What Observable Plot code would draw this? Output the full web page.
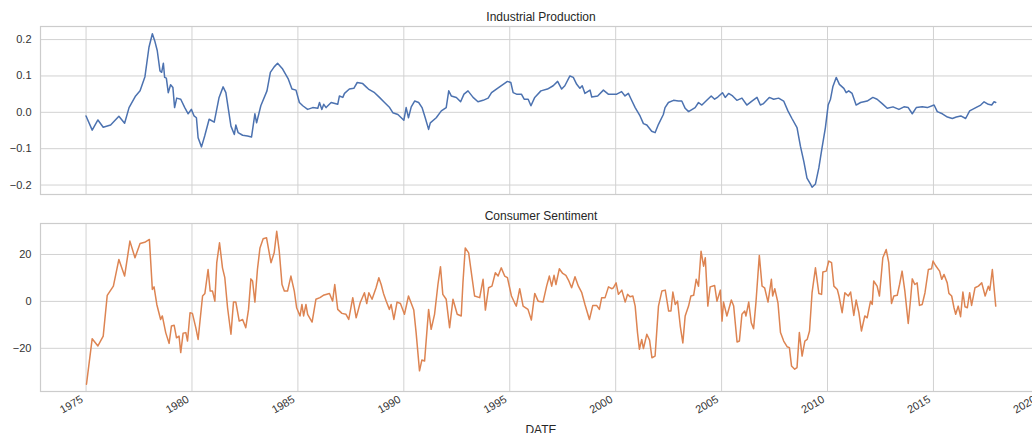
<!DOCTYPE html>
<html>
<head>
<meta charset="utf-8">
<script src="https://cdn.jsdelivr.net/npm/d3@7"></script>
<script src="https://cdn.jsdelivr.net/npm/@observablehq/plot@0.6"></script>
<style>
  html, body { margin: 0; padding: 0; background: #fff; overflow: hidden; width: 1032px; height: 433px; }
  #wrap { position: relative; width: 1032px; height: 433px; overflow: hidden; }
  #top, #bottom { position: absolute; left: 0; width: 1045px; }
  #top { top: 0; }
  #bottom { top: 197px; }
  #wrap svg { max-width: none !important; height: auto; }
</style>
</head>
<body>
<div id="wrap"><div id="top"></div><div id="bottom"></div></div>
<script>
// ---- Data (decimal years) ----
const titles = ["Industrial Production", "Consumer Sentiment"];
const xLabel = "DATE";
const xTicks = [1975, 1980, 1985, 1990, 1995, 2000, 2005, 2010, 2015, 2020];
const ipTicks = [-0.2, -0.1, 0.0, 0.1, 0.2];
const csTicks = [-20, 0, 20];

const ipYears = [1975.0,1975.29,1975.56,1975.81,1976.16,1976.55,1976.82,1977.03,1977.34,1977.55,1977.78,1977.97,1978.13,1978.24,1978.36,1978.49,1978.57,1978.65,1978.71,1978.79,1978.88,1978.99,1979.10,1979.18,1979.28,1979.47,1979.66,1979.82,1979.97,1980.10,1980.21,1980.29,1980.45,1980.60,1980.81,1981.05,1981.28,1981.47,1981.60,1981.84,1982.00,1982.07,1982.18,1982.39,1982.62,1982.81,1982.97,1983.05,1983.25,1983.54,1983.70,1983.88,1984.04,1984.28,1984.55,1984.72,1984.91,1985.07,1985.23,1985.46,1985.70,1985.94,1986.02,1986.13,1986.22,1986.33,1986.57,1986.88,1986.96,1987.12,1987.20,1987.43,1987.64,1987.80,1988.06,1988.22,1988.33,1988.62,1988.85,1989.09,1989.33,1989.48,1989.72,1990.00,1990.11,1990.22,1990.35,1990.51,1990.70,1990.86,1991.01,1991.17,1991.25,1991.53,1991.77,1992.00,1992.12,1992.24,1992.48,1992.68,1992.84,1993.03,1993.27,1993.50,1993.74,1993.98,1994.14,1994.42,1994.69,1994.89,1995.05,1995.16,1995.32,1995.55,1995.68,1995.87,1996.00,1996.18,1996.47,1996.78,1997.05,1997.26,1997.45,1997.60,1997.84,1998.00,1998.16,1998.31,1998.42,1998.55,1998.79,1998.87,1999.15,1999.42,1999.65,2000.05,2000.28,2000.44,2000.60,2000.73,2000.92,2001.15,2001.31,2001.47,2001.70,2001.86,2002.02,2002.25,2002.33,2002.49,2002.73,2002.96,2003.12,2003.28,2003.44,2003.75,2003.91,2004.07,2004.30,2004.51,2004.67,2004.82,2005.04,2005.17,2005.33,2005.52,2005.72,2005.96,2006.19,2006.43,2006.67,2006.83,2006.98,2007.25,2007.46,2007.69,2007.93,2008.13,2008.32,2008.56,2008.72,2008.88,2009.03,2009.19,2009.27,2009.43,2009.59,2009.74,2009.90,2010.03,2010.14,2010.25,2010.41,2010.56,2010.77,2010.88,2011.00,2011.16,2011.35,2011.56,2011.87,2012.14,2012.34,2012.58,2012.82,2013.09,2013.37,2013.61,2013.81,2014.00,2014.19,2014.47,2014.71,2015.03,2015.18,2015.42,2015.66,2015.89,2016.08,2016.29,2016.52,2016.71,2017.00,2017.23,2017.39,2017.59,2017.75,2017.86,2017.94];
const ipValues = [-0.010,-0.049,-0.021,-0.041,-0.035,-0.011,-0.030,0.013,0.045,0.059,0.098,0.179,0.216,0.197,0.170,0.114,0.110,0.135,0.096,0.094,0.054,0.076,0.068,0.013,0.039,0.036,0.013,-0.004,0.008,-0.010,-0.015,-0.070,-0.095,-0.065,-0.019,-0.027,0.041,0.070,0.054,-0.038,-0.061,-0.035,-0.056,-0.063,-0.065,-0.068,-0.004,-0.029,0.018,0.059,0.110,0.125,0.135,0.119,0.091,0.064,0.061,0.027,0.018,0.008,0.013,0.011,0.027,0.008,0.022,0.013,0.027,0.022,0.045,0.041,0.052,0.064,0.066,0.082,0.079,0.070,0.064,0.054,0.041,0.027,0.013,-0.001,-0.006,-0.022,0.013,-0.015,0.015,0.031,0.027,0.013,-0.015,-0.047,-0.029,-0.015,0.004,0.013,0.059,0.045,0.041,0.029,0.050,0.059,0.041,0.029,0.033,0.039,0.054,0.066,0.077,0.085,0.082,0.054,0.050,0.050,0.036,0.036,0.018,0.041,0.059,0.064,0.073,0.085,0.064,0.073,0.100,0.096,0.077,0.066,0.073,0.052,0.061,0.042,0.045,0.061,0.050,0.050,0.057,0.045,0.052,0.036,0.013,-0.010,-0.031,-0.035,-0.052,-0.056,-0.033,-0.006,0.013,0.027,0.033,0.031,0.031,0.011,0.002,0.013,0.027,0.020,0.033,0.045,0.036,0.042,0.054,0.041,0.052,0.045,0.033,0.039,0.020,0.031,0.041,0.020,0.024,0.041,0.036,0.039,0.031,0.004,-0.017,-0.042,-0.093,-0.135,-0.181,-0.197,-0.206,-0.197,-0.153,-0.098,-0.042,0.020,0.036,0.070,0.096,0.077,0.066,0.054,0.059,0.052,0.020,0.027,0.031,0.041,0.036,0.024,0.011,0.015,0.008,0.015,0.013,-0.004,0.013,0.015,0.013,0.020,0.002,-0.004,-0.013,-0.017,-0.013,-0.010,-0.017,0.004,0.013,0.020,0.029,0.022,0.020,0.029,0.027];

const csYears = [1975.02,1975.29,1975.56,1975.81,1976.00,1976.29,1976.55,1976.82,1977.07,1977.31,1977.55,1977.77,1977.99,1978.13,1978.21,1978.34,1978.52,1978.60,1978.76,1978.92,1979.03,1979.16,1979.27,1979.39,1979.47,1979.58,1979.71,1979.79,1979.91,1980.02,1980.18,1980.29,1980.50,1980.61,1980.76,1980.86,1980.97,1981.08,1981.17,1981.30,1981.44,1981.55,1981.68,1981.84,1981.96,1982.07,1982.23,1982.39,1982.54,1982.67,1982.78,1982.86,1982.97,1983.09,1983.21,1983.36,1983.52,1983.73,1983.88,1984.00,1984.12,1984.25,1984.36,1984.51,1984.67,1984.83,1984.94,1985.10,1985.19,1985.27,1985.38,1985.46,1985.67,1985.85,1986.04,1986.20,1986.49,1986.64,1986.74,1986.88,1987.08,1987.27,1987.40,1987.59,1987.75,1987.94,1988.14,1988.25,1988.35,1988.50,1988.69,1988.82,1988.93,1989.04,1989.17,1989.32,1989.40,1989.53,1989.68,1989.84,1990.03,1990.22,1990.47,1990.58,1990.74,1990.85,1990.98,1991.17,1991.29,1991.45,1991.61,1991.73,1991.84,1992.00,1992.16,1992.32,1992.52,1992.71,1992.79,1992.90,1993.06,1993.22,1993.34,1993.58,1993.74,1993.85,1994.00,1994.16,1994.32,1994.45,1994.60,1994.76,1994.89,1995.08,1995.23,1995.31,1995.47,1995.63,1995.86,1996.02,1996.18,1996.34,1996.57,1996.74,1996.87,1996.98,1997.09,1997.18,1997.34,1997.50,1997.65,1997.77,1997.92,1998.08,1998.24,1998.40,1998.55,1998.76,1998.92,1999.10,1999.23,1999.34,1999.50,1999.66,1999.81,1999.89,2000.02,2000.13,2000.29,2000.45,2000.56,2000.68,2000.81,2000.92,2001.03,2001.12,2001.23,2001.31,2001.47,2001.60,2001.71,2001.86,2002.02,2002.18,2002.34,2002.50,2002.61,2002.70,2002.81,2002.92,2003.05,2003.17,2003.28,2003.44,2003.55,2003.68,2003.80,2003.91,2004.03,2004.15,2004.23,2004.35,2004.46,2004.67,2004.78,2004.94,2005.02,2005.09,2005.25,2005.46,2005.57,2005.73,2005.84,2005.96,2006.09,2006.15,2006.28,2006.40,2006.51,2006.62,2006.78,2006.91,2007.03,2007.19,2007.35,2007.41,2007.51,2007.66,2007.78,2007.93,2008.09,2008.20,2008.30,2008.45,2008.56,2008.67,2008.80,2008.93,2009.04,2009.15,2009.27,2009.43,2009.59,2009.72,2009.78,2009.94,2010.06,2010.19,2010.30,2010.46,2010.54,2010.69,2010.82,2010.98,2011.09,2011.24,2011.35,2011.48,2011.60,2011.76,2011.87,2012.03,2012.11,2012.18,2012.34,2012.45,2012.61,2012.77,2012.89,2013.02,2013.13,2013.29,2013.40,2013.52,2013.65,2013.81,2013.92,2014.00,2014.12,2014.23,2014.34,2014.47,2014.60,2014.76,2014.91,2014.98,2015.10,2015.29,2015.39,2015.50,2015.65,2015.73,2015.86,2015.97,2016.05,2016.17,2016.28,2016.39,2016.49,2016.60,2016.71,2016.80,2016.96,2017.12,2017.28,2017.44,2017.59,2017.66,2017.78,2017.94];
const csValues = [-35.3,-15.9,-19.0,-14.8,2.6,6.5,17.9,10.8,25.7,18.6,24.7,25.2,26.4,5.1,6.2,-1.3,-7.7,-6.2,-13.3,-17.9,-10.5,-10.2,-15.5,-14.8,-21.8,-13.6,-13.3,-16.9,-4.8,-5.1,-11.2,-16.2,2.3,3.4,13.6,4.4,4.4,0.1,16.5,25.0,14.3,10.1,-2.7,-14.0,-0.3,-0.3,-8.4,-7.7,-11.2,-3.4,9.6,8.7,-0.3,13.6,22.8,26.7,27.1,16.5,20.7,29.9,21.4,7.2,4.4,4.4,10.8,4.4,-2.7,-6.2,-1.3,-6.2,-1.3,-5.5,-8.8,0.9,1.6,2.6,3.4,0.1,7.2,-3.4,-5.1,-5.5,-7.7,1.6,-7.0,-0.6,3.7,-0.9,3.7,0.9,5.8,10.1,7.2,3.4,0.1,-3.4,-1.3,-7.7,-0.3,-0.9,-5.5,2.3,-3.7,-13.3,-29.6,-25.0,-25.4,-3.4,-11.9,-5.5,7.2,14.8,3.0,0.9,-11.2,0.9,-5.5,-6.2,7.9,22.8,20.7,10.1,2.3,1.6,9.4,-3.7,5.8,6.5,12.2,10.8,14.3,10.8,10.1,2.3,-0.6,-2.0,5.4,-2.0,-3.4,-7.9,3.4,0.1,-0.3,6.5,10.8,6.5,11.1,7.2,13.9,11.9,11.1,9.1,5.8,10.5,6.5,3.7,-1.3,-7.7,-1.7,-1.7,-3.4,1.6,1.6,6.2,5.4,5.8,7.9,3.0,4.8,-0.3,3.0,2.0,2.3,-2.0,-13.3,-20.4,-16.2,-20.1,-14.0,-16.5,-24.0,-23.3,-2.0,4.4,4.8,-4.1,-4.1,4.0,-1.3,0.1,-10.6,-17.7,-6.2,-2.0,2.3,2.6,9.4,6.5,21.4,15.0,18.6,-2.0,6.2,6.8,0.1,4.8,-8.4,-0.3,-6.2,0.6,-2.0,-17.3,-16.9,-5.5,-4.1,-6.2,-0.3,-9.1,-11.6,-0.6,19.6,6.5,5.8,-0.3,9.4,2.3,5.4,-0.6,-13.3,-16.9,-19.3,-19.7,-27.5,-28.9,-28.2,-13.3,-23.3,-16.9,-16.2,-12.6,3.7,14.3,3.4,3.0,12.5,12.9,17.2,16.5,6.5,5.1,2.3,-4.8,3.7,2.3,4.0,-6.0,0.6,-4.8,-12.6,-6.2,-7.0,0.1,-1.3,8.7,6.5,2.3,18.6,22.1,16.5,-0.9,2.3,2.6,7.2,12.9,4.4,-9.4,0.9,9.6,7.2,7.9,-1.7,-1.3,3.7,13.6,13.9,17.2,15.3,12.9,9.4,11.5,7.9,3.4,2.3,-2.7,-5.5,-2.0,-6.5,4.0,-2.3,-2.7,3.7,-1.7,5.8,6.5,7.9,2.3,6.5,4.8,13.6,-2.0];

// ---- Tables built from the arrays ----
const ip = ipYears.map((y, i) => ({year: y, value: ipValues[i]}));
const cs = csYears.map((y, i) => ({year: y, value: csValues[i]}));

const font = "'Liberation Sans', Arial, 'DejaVu Sans', sans-serif";
const W = 1045;
const xDomain = [1972.85, 2020.1];
const gridColor = "#d2d2d2";
const common = {
  width: W, marginLeft: 40, marginRight: 4, marginTop: 26,
  style: {fontFamily: font, fontSize: "11px", color: "#333", background: "transparent", overflow: "visible", maxWidth: "none"}
};

const topChart = Plot.plot({
  ...common,
  height: 197, marginBottom: 3,
  x: {domain: xDomain, axis: null},
  y: {domain: [-0.226, 0.236], axis: null},
  marks: [
    Plot.gridX(xTicks, {stroke: gridColor, strokeOpacity: 1, strokeWidth: 1}),
    Plot.gridY(ipTicks, {stroke: gridColor, strokeOpacity: 1, strokeWidth: 1}),
    Plot.frame({stroke: "#cccccc", strokeWidth: 1.2}),
    Plot.axisY(ipTicks, {tickSize: 0, tickPadding: 9, tickFormat: d3.format(".1f"), label: null, fill: "#333"}),
    Plot.line(ip, {x: "year", y: "value", stroke: "#4c72b0", strokeWidth: 1.5}),
    Plot.text([titles[0]], {frameAnchor: "top", dy: -14, fontSize: 12, fill: "#262626"})
  ]
});

const bottomChart = Plot.plot({
  ...common,
  height: 244, marginBottom: 50,
  x: {domain: xDomain},
  y: {domain: [-38.4, 33.2]},
  marks: [
    Plot.gridX(xTicks, {stroke: gridColor, strokeOpacity: 1, strokeWidth: 1}),
    Plot.gridY(csTicks, {stroke: gridColor, strokeOpacity: 1, strokeWidth: 1}),
    Plot.frame({stroke: "#cccccc", strokeWidth: 1.2}),
    Plot.axisY(csTicks, {tickSize: 0, tickPadding: 9, tickFormat: d3.format("d"), label: null, fill: "#333"}),
    Plot.axisX(xTicks, {tickSize: 0, tickPadding: 7, tickRotate: -30, dx: -4, tickFormat: d => String(d), label: null, fill: "#333"}),
    Plot.line(cs, {x: "year", y: "value", stroke: "#dd8452", strokeWidth: 1.5}),
    Plot.text([titles[1]], {frameAnchor: "top", dy: -12, fontSize: 12, fill: "#262626"}),
    Plot.text([xLabel], {frameAnchor: "bottom", dy: 42, fontSize: 12, fill: "#262626"})
  ]
});

document.getElementById("top").appendChild(topChart);
document.getElementById("bottom").appendChild(bottomChart);
</script>
</body>
</html>
